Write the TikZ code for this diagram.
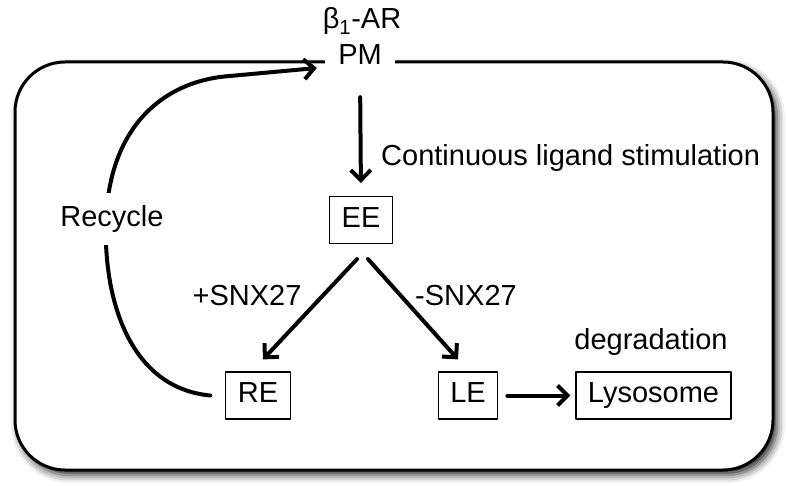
\documentclass[tikz,border=0pt]{standalone}
\usepackage{fontspec}
\setmainfont{Liberation Sans}
\usetikzlibrary{arrows.meta}
\usetikzlibrary{shadows.blur}

\begin{document}
\begin{tikzpicture}[line cap=round,line join=round,x=1pt,y=-1pt,
  font=\fontsize{29}{35}\selectfont,
  >={Straight Barb[length=10pt,width=20pt]},
  arr/.style={->,line width=4pt},
  lbl/.style={inner sep=0pt,anchor=base},
  box/.style={draw,line width=1.2pt,inner xsep=12pt,inner ysep=10.5pt,text height=20pt,text depth=6pt}]
\useasboundingbox (0,0) rectangle (786,486);
% cell outline
\draw [line width=3pt,rounded corners=50pt,fill=white,
  blur shadow={shadow xshift=4pt,shadow yshift=-5pt,shadow blur radius=8pt,shadow opacity=85}]
  (15,62) rectangle (773,470);
% labels
\node [lbl] (ar) at (362,29) {β\textsubscript{1}-AR};
\node [anchor=base,fill=white,minimum width=70pt,inner ysep=6pt,text height=22pt,text depth=2pt] (PM) at (360,65) {PM};
\node [lbl,anchor=base west] (stim) at (381,166) {Continuous ligand stimulation};
\node [lbl] (plus) at (247,305) {+SNX27};
\node [lbl] (minus) at (466,305) {-SNX27};
\node [lbl] (degr) at (651,349) {degradation};
% compartments
\node [box] (EE) at (361,220) {EE};
\node [box] (RE) at (258,395.5) {RE};
\node [box] (LE) at (468,395.5) {LE};
\node [box] (lyso) at (653.5,395.5) {Lysosome};
% arrows
\draw [arr,shorten <=24pt,shorten >=13pt] (PM.south) -- (EE.north);
\draw [arr] ([xshift=-4pt,yshift=-15pt]EE.south) -- ([xshift=5pt,yshift=12pt]RE.north);
\draw [arr] ([xshift=7pt,yshift=-15pt]EE.south) -- ([xshift=-10pt,yshift=12pt]LE.north);
\draw [arr,shorten <=9pt,shorten >=5pt] (LE.east) -- (lyso.west);
\draw [arr] ([xshift=-15pt]RE.west) .. controls (130,388) and (103,300) .. (106,220)
  .. controls (110,120) and (170,80) .. (230,76) -- ([xshift=-8pt,yshift=-13pt]PM.west);
\node [fill=white,inner xsep=4pt,inner ysep=12pt] (recycle) at (112,219) {Recycle};
\end{tikzpicture}
\end{document}
